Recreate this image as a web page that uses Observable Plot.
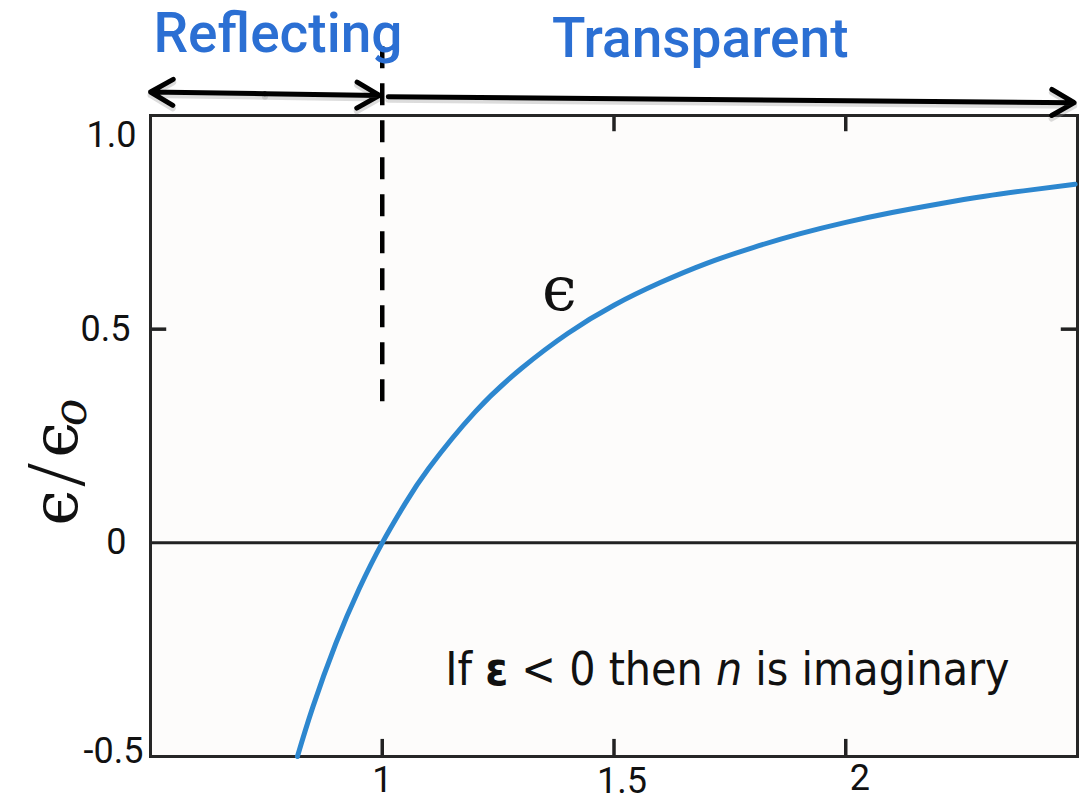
<!DOCTYPE html>
<html>
<head>
<meta charset="utf-8">
<script src="https://cdn.jsdelivr.net/npm/d3@7"></script>
<script src="https://cdn.jsdelivr.net/npm/@observablehq/plot@0.6"></script>
<style>
  html, body { margin: 0; padding: 0; background: #ffffff; }
  #chart svg { display: block; }
</style>
</head>
<body>
<div id="chart"></div>
<script>
// Relative permittivity of a free-electron plasma against frequency ω/ωp
const omega   = [0.817, 0.85, 0.9, 0.95, 1.0, 1.05, 1.1, 1.2, 1.3, 1.4, 1.5, 1.6, 1.7, 1.8, 1.9, 2.0, 2.1, 2.2, 2.3, 2.4, 2.495];
const epsilon = [-0.5, -0.385, -0.235, -0.108, 0.0, 0.093, 0.174, 0.306, 0.408, 0.49, 0.556, 0.609, 0.654, 0.691, 0.723, 0.75, 0.773, 0.793, 0.811, 0.826, 0.839];

// Axis ticks and their labels
const xTicks = [1, 1.5, 2];
const xTickLabels = ["1", "1.5", "2"];
const yTicks = [1.0, 0.5, 0, -0.5];
const yTickLabels = ["1.0", "0.5", "0", "-0.5"];

// Regions either side of the plasma frequency
const regionNames = ["Reflecting", "Transparent"];
const plasmaEdge = 1.0;

const curve = omega.map((w, i) => ({w, e: epsilon[i]}));

// Small per-label offsets (px) for the tick labels
const xLabelNudge = [[0, 35], [8, 36], [14, 33]];
const yLabelNudge = [[-14, 20], [-20, 0], [-24, 0], [-7, -5]];

const blue = "#2b6fd3";
const ink = "#111111";
const serif = "'DejaVu Serif', 'Liberation Serif', serif";
const tickFont = "Roboto, sans-serif";

const arrows = [
  {x1: 0.747, y1: 1.051, x2: 0.5, y2: 1.055},
  {x1: 0.747, y1: 1.051, x2: 0.994, y2: 1.047},
  {x1: 1.013, y1: 1.044, x2: 2.493, y2: 1.030}
];

const marks = [
  Plot.frame({fill: "#fdfcfb", stroke: "none"}),
  // zero line
  Plot.ruleY([0], {stroke: "#222", strokeWidth: 3}),
  // inward ticks
  Plot.ruleX(xTicks, {y1: -0.5, y2: -0.46, stroke: "#222", strokeWidth: 3.5}),
  Plot.ruleX(xTicks.slice(1), {y1: 1.0, y2: 0.962, stroke: "#222", strokeWidth: 3.5}),
  Plot.ruleY([0.5], {x1: 0.5, x2: 0.535, stroke: "#222", strokeWidth: 3.5}),
  Plot.ruleY([0.5], {x1: 2.465, x2: 2.5, stroke: "#222", strokeWidth: 3.5}),
  Plot.frame({stroke: "#262626", strokeWidth: 3}),
  // permittivity curve
  Plot.line(curve, {x: "w", y: "e", curve: "natural", stroke: "#2d87cf", strokeWidth: 5}),
  // region arrows with a soft shadow underneath
  Plot.arrow(arrows, {x1: "x1", y1: "y1", x2: "x2", y2: "y2", stroke: "#9a9a9a", strokeOpacity: 0.35,
    strokeWidth: 6, headLength: 6.5, headAngle: 60, dy: 3}),
  Plot.arrow(arrows, {x1: "x1", y1: "y1", x2: "x2", y2: "y2", stroke: "#000",
    strokeWidth: 5, headLength: 7.8, headAngle: 60}),
  // plasma-frequency marker
  Plot.ruleX([plasmaEdge], {y1: 0.33, y2: 1.165, stroke: "#000", strokeWidth: 4.5, strokeDasharray: "22,15"}),
  Plot.text([regionNames[0]], {x: 0.775, y: 1.149, lineAnchor: "bottom", fill: blue,
    fontSize: 55, fontWeight: 500, fontFamily: "Roboto, 'Open Sans', sans-serif"}),
  Plot.text([regionNames[1]], {x: 1.686, y: 1.137, lineAnchor: "bottom", fill: blue,
    fontSize: 55, fontWeight: 500, fontFamily: "Roboto, 'Open Sans', sans-serif"}),
  // tick labels
  ...xTicks.map((v, i) => Plot.text([xTickLabels[i]], {x: v, frameAnchor: "bottom",
    dx: xLabelNudge[i][0], dy: xLabelNudge[i][1], fill: ink, fontSize: 36, fontFamily: tickFont})),
  ...yTicks.map((v, i) => Plot.text([yTickLabels[i]], {y: v, frameAnchor: "left", textAnchor: "end",
    dx: yLabelNudge[i][0], dy: yLabelNudge[i][1], fill: ink, fontSize: 36, fontFamily: tickFont})),
  // y-axis title ϵ/ϵo
  Plot.text(["ϵ"], {x: 0.298, y: 0.082, rotate: -90, fill: ink, fontSize: 64, fontFamily: serif}),
  Plot.text(["/"], {x: 0.298, y: 0.159, rotate: -90, fill: ink, fontSize: 84, fontWeight: 300,
    fontFamily: "'Liberation Serif', serif"}),
  Plot.text(["ϵ"], {x: 0.298, y: 0.241, rotate: -90, fill: ink, fontSize: 64, fontFamily: serif}),
  Plot.text(["o"], {x: 0.33, y: 0.305, rotate: -90, fill: ink, fontSize: 46, fontStyle: "italic",
    fontFamily: serif}),
  // curve label
  Plot.text(["ϵ"], {x: 1.382, y: 0.592, fill: ink, fontSize: 62, fontFamily: serif}),
  // note
  Plot.text(["If ε < 0 then n is imaginary"], {x: 1.136, y: -0.332, textAnchor: "start", lineAnchor: "bottom",
    fill: ink, fontSize: 46, fontFamily: "'Liberation Sans Narrow', 'DejaVu Sans Condensed', 'Open Sans', sans-serif"})
];

const chart = Plot.plot({
  width: 1081,
  height: 801,
  marginLeft: 150,
  marginRight: 4,
  marginTop: 115,
  marginBottom: 45,
  x: {domain: [0.5, 2.5], axis: null},
  y: {domain: [-0.5, 1.0], axis: null},
  style: {background: "#ffffff", overflow: "visible"},
  marks
});

// Bold epsilon and italic n within the note
d3.select(chart).selectAll("text")
  .filter(function () { return this.textContent === "If ε < 0 then n is imaginary"; })
  .each(function () {
    const t = d3.select(this);
    t.text(null);
    t.append("tspan").text("If ");
    t.append("tspan").attr("font-weight", "bold").text("ε");
    t.append("tspan").text(" < 0 then ");
    t.append("tspan").attr("font-style", "italic").text("n");
    t.append("tspan").text(" is imaginary");
  });

document.getElementById("chart").appendChild(chart);
</script>
</body>
</html>
